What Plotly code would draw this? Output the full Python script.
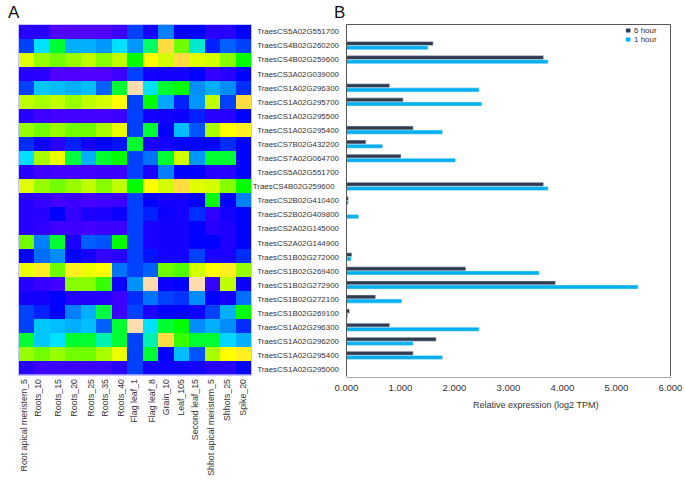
import plotly.graph_objects as go

tissues = ["Root apical meristem_5", "Roots_10", "Roots_15", "Roots_20", "Roots_25", "Roots_35", "Roots_40",
           "Flag leaf_1", "Flag leaf_8", "Grain_10", "Leaf_105", "Second leaf_15",
           "Shhot apical meristem_5", "Shhots_25", "Spike_20"]
genes = ["TraesCS5A02G551700", "TraesCS4B02G260200", "TraesCS4B02G259600", "TraesCS3A02G039000",
         "TraesCS1A02G296300", "TraesCS1A02G295700", "TraesCS1A02G295500", "TraesCS1A02G295400",
         "TraesCS7B02G432200", "TraesCS7A02G064700", "TraesCS5A02G551700", "TraesCS4B02G259600",
         "TraesCS2B02G410400", "TraesCS2B02G409800", "TraesCS2A02G145000", "TraesCS2A02G144900",
         "TraesCS1B02G272000", "TraesCS1B02G269400", "TraesCS1B02G272900", "TraesCS1B02G272100",
         "TraesCS1B02G269100", "TraesCS1A02G296300", "TraesCS1A02G296200", "TraesCS1A02G295400",
         "TraesCS1A02G295000"]
heat = [
 [1,1,0,0,0,0,0.5,3,1.5,4,2,2,1,1,2],
 [3,6,7.5,5,5,4.5,6,4.5,7,12,9,6.3,2.5,3.5,3],
 [10.5,9.5,9,9.5,10,9.3,10,8,11,10.3,12,10.5,10.3,9.3,8],
 [1,1,0,0,0,0,0.5,3,1.5,1.5,1.5,2,0.7,1,2],
 [3,5.5,5.3,5,5.3,3.5,7.5,13,6,7.5,8,4.3,5,4.3,2.7],
 [10,9.7,10,9.5,10,10.3,11,3,8,4.8,2.5,4.5,10,3,12],
 [1,0.5,0.3,0.3,0.3,0.3,0.5,3,1.5,1.5,1.7,2.5,1,1,2],
 [9.5,9,9.5,9,9,9.7,10.7,3,7.5,2,5.3,3.3,9.7,11,11.5],
 [2.7,1.7,1,2.5,1.5,2,2.3,7.5,1.3,1.5,2,2,2,2.7,2],
 [6,9.7,10.7,7.3,5,7.5,8,3,3.8,7.5,10.3,4.5,7.5,7.5,2],
 [1,0.5,0.3,0.3,0.3,0.5,0.5,3,1.3,4,2,2,1,1,2],
 [10.5,9.5,9,9.5,10,9.3,10,8,11,10.3,12,10.5,10.3,9.3,8],
 [1,0.7,0.3,0.5,0.2,0.4,0.5,3,2,1.5,1.5,2,8,2,4],
 [1,1,2,0.7,1.3,1.3,1.7,3,2.5,1.7,1.5,2.7,0.8,1.5,2],
 [1,0.8,0.4,0.5,0.3,0.5,0.5,3,1.3,1.5,1.5,2,1,1.3,2],
 [9,4,7.5,1.3,3.5,3.3,8,3,1.3,1.5,1.5,2,2,1.3,2],
 [2,3.7,4.3,2,1.5,0.7,1,3,2.3,1.5,1.5,3,1.3,1.3,2.7],
 [10.7,11.5,9,11.5,10.7,11,3.8,3,3.5,9,8.7,10.3,11,11.5,9.5],
 [1,0.7,0.4,9.3,9.3,8.5,1.7,4.4,13,1.7,2,13,0.7,10,1.7],
 [1.5,1.5,2,1.2,1.2,1,0.5,2.7,3.8,3,2.8,4.3,2,1.5,3.7],
 [3,2.5,2,4,5,7.3,0.5,3,1.3,2,2,1.7,3,5,8],
 [3,5.5,5.3,5,5.3,3.5,7.5,13,6,7.5,8,4.3,5,4.3,2.7],
 [7.5,5.5,6,7.5,7.5,6.5,7.5,3,6.5,12,8.5,7.5,7.5,5.8,5],
 [9.5,9,9.5,9,9,9.7,10.7,3,7.5,2,5.3,3.3,9.7,11,11.5],
 [1,0.5,0.5,0.5,0.5,0.5,1,3,1.5,1.7,1.7,1.5,1,1,2],
]
six_hour = [0,1.605,3.65,0,0.80,1.05,0,1.235,0.36,1.01,0,3.65,0.035,0,0,0,0.10,2.21,3.87,0.54,0.055,0.80,1.66,1.235,0]
one_hour = [0,1.51,3.735,0,2.457,2.506,0,1.78,0.67,2.02,0,3.735,0.035,0.225,0,0,0.085,3.57,5.40,1.025,0.025,2.457,1.235,1.78,0]
x_ticks = [0, 1, 2, 3, 4, 5, 6]
x_tick_text = ["0.000", "1.000", "2.000", "3.000", "4.000", "5.000", "6.000"]

W, H = 685, 483
FONT = "Liberation Sans, Arial, sans-serif"
TXT = "#333333"
C6 = "#2f3d52"
C1 = "#00b0f0"
def fx(p): return p / W
def fy(p): return 1 - p / H

stops = ["#5000ff", "#2800ff", "#0000ff", "#0040ff", "#0080ff", "#00b0ff", "#00e0ff", "#00ff60",
         "#00ff00", "#70ff00", "#c0ff00", "#ffff00", "#ffdc40", "#ffdcb0"]
colorscale = [[i / 13, c] for i, c in enumerate(stops)]

fig = go.Figure()
fig.add_trace(go.Heatmap(z=heat, x=list(range(15)), y=list(range(25)), zmin=0, zmax=13,
                         colorscale=colorscale, showscale=False, xaxis="x", yaxis="y"))
row_pos = list(range(25))
tick_text = [g + "\u00a0\u00a0" if i == 11 else g for i, g in enumerate(genes)]
fig.add_trace(go.Bar(name="6 hour", y=row_pos, x=six_hour, orientation="h", marker_color=C6,
                     xaxis="x2", yaxis="y2", showlegend=False))
fig.add_trace(go.Bar(name="1 hour", y=row_pos, x=one_hour, orientation="h", marker_color=C1,
                     xaxis="x2", yaxis="y2", showlegend=False))

def note(text, x, y, size, color=TXT, anchor="center"):
    return dict(text=text, x=fx(x), y=fy(y), xref="paper", yref="paper", xanchor=anchor, yanchor="middle",
                showarrow=False, font=dict(size=size, color=color))

def swatch(y, color):
    return dict(type="rect", xref="paper", yref="paper", x0=fx(626), x1=fx(630.5), y0=fy(y + 2), y1=fy(y - 2),
                fillcolor=color, line=dict(width=0))

def frame(x0, x1, y0, y1):
    return dict(type="line", xref="x2 domain", yref="y2 domain", x0=x0, x1=x1, y0=y0, y1=y1,
                line=dict(color="#555555", width=1))

nudge = [-.17, -.26, 0, .06, .16, .06, .1, -.06, .1, 0, 0, -.13, -.1, -.06, 0]
fig.update_layout(
    width=W, height=H, margin=dict(l=0, r=0, t=0, b=0, autoexpand=False), paper_bgcolor="white",
    plot_bgcolor="white", barmode="group", bargap=0.42, bargroupgap=0, showlegend=False,
    font=dict(family=FONT, size=9.5, color=TXT),
    xaxis=dict(domain=[fx(19), fx(251)], range=[-.5, 14.5], tickmode="array", automargin=False,
               tickvals=[i + n for i, n in enumerate(nudge)], ticktext=tissues, tickangle=-90,
               ticks="", showgrid=False, zeroline=False, showline=True, mirror=True, linecolor="#c4c4ff",
               linewidth=1, tickfont=dict(size=8.8, color=TXT), anchor="y"),
    yaxis=dict(domain=[fy(374.5), fy(25)], range=[24.5, -.5], showticklabels=False, ticks="", showgrid=False,
               automargin=False, zeroline=False, showline=True, mirror=True, linecolor="#c4c4ff", linewidth=1,
               anchor="x"),
    xaxis2=dict(domain=[fx(346.5), fx(670.5)], range=[0, 6], tickmode="array", tickvals=x_ticks,
                automargin=False, ticktext=x_tick_text, ticks="outside", ticklen=2, tickcolor="rgba(0,0,0,0)",
                showgrid=False, zeroline=False, showline=True, mirror=False, linecolor="#a8a8a8", linewidth=1,
                tickfont=dict(size=9.5, color=TXT), anchor="y2"),
    yaxis2=dict(domain=[fy(376.5), fy(24.5)], range=[24.5, -.5], tickmode="array", tickvals=row_pos,
                automargin=False, ticktext=tick_text, ticks="outside", ticklen=5, tickcolor="rgba(0,0,0,0)",
                showgrid=False, zeroline=False, showline=False, tickfont=dict(size=7.9, color=TXT), anchor="x2"),
    annotations=[
        note("A", 13.5, 12, 17, "#111111"),
        note("B", 339.5, 12, 17, "#111111"),
        note("Relative expression (log2 TPM)", 535.5, 404.5, 9),
        note("6 hour", 632, 30.5, 8, anchor="left"),
        note("1 hour", 632, 39.5, 8, anchor="left"),
    ],
    shapes=[frame(0, 1, 1, 1), frame(0, 0, 0, 1), frame(1, 1, 0, 1), swatch(30.5, C6), swatch(39.5, C1)],
)
fig.write_html("out.html", config={"displayModeBar": False}, post_script="document.body.style.margin='0';")
